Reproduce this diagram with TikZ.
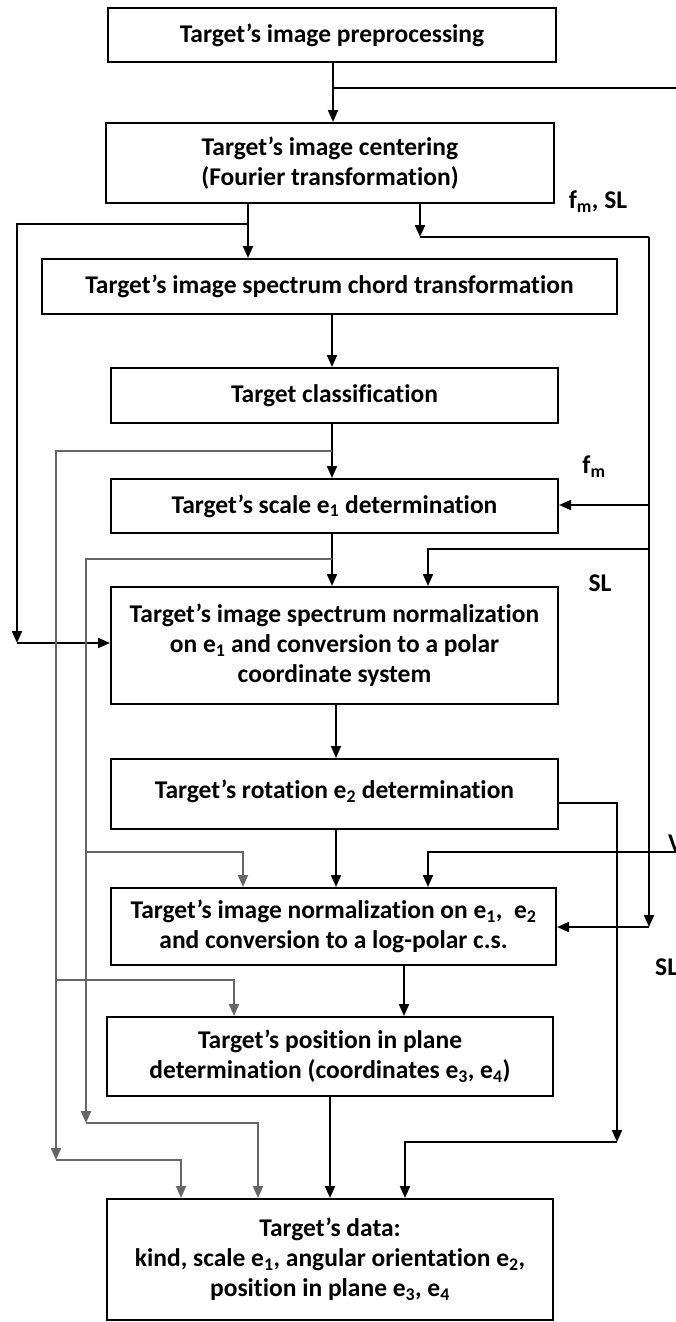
\documentclass[tikz,border=0pt]{standalone}
\usepackage{fontspec}
\setmainfont{Carlito}[Ligatures={TeX,NoCommon}]
\usetikzlibrary{arrows.meta}
\begin{document}
\begin{tikzpicture}[
        x=1pt, y=-1pt,
        font=\fontsize{25.5}{30}\selectfont\bfseries,
        block/.style = {draw, line width=2pt, align=center, inner sep=0pt},
        line/.style = {line width=2pt},
        link/.style = {line, -{Triangle[length=12pt,width=10pt]}},
        feed/.style = {draw=black!60},
        tag/.style = {inner sep=0pt}
    ]
    \useasboundingbox (0,0) rectangle (676,1322);

    \node[block, minimum width=448pt, minimum height=54pt] (prep) at (332,35) {Target's image preprocessing};
    \node[block, minimum width=448pt, minimum height=80pt] (centering) at (330,163) {Target's image centering\\(Fourier transformation)};
    \node[block, minimum width=575pt, minimum height=55pt] (chord) at (329.5,286.5) {Target's image spectrum chord transformation};
    \node[block, minimum width=447pt, minimum height=55pt] (classif) at (334.5,395.5) {Target classification};
    \node[block, minimum width=447pt, minimum height=54pt] (scale) at (334.5,506) {Target's scale e\textsubscript{1} determination};
    \node[block, minimum width=447pt, minimum height=117pt] (polar) at (334.5,645.5) {Target's image spectrum normalization\\on e\textsubscript{1} and conversion to a polar\\coordinate system};
    \node[block, minimum width=447pt, minimum height=70pt] (rotation) at (334.5,794) {\raisebox{9pt}{Target's rotation e\textsubscript{2} determination}};
    \node[block, minimum width=445pt, minimum height=77pt] (logpolar) at (333.5,926.5) {Target's image normalization on e\textsubscript{1},\ \ e\textsubscript{2}\\and conversion to a log-polar c.s.};
    \node[block, minimum width=446pt, minimum height=79pt] (position) at (330,1056.5) {Target's position in plane\\determination (coordinates e\textsubscript{3}, e\textsubscript{4})};
    \node[block, minimum width=446pt, minimum height=121pt] (data) at (330,1259.5) {Target's data:\\kind, scale e\textsubscript{1}, angular orientation e\textsubscript{2},\\position in plane e\textsubscript{3}, e\textsubscript{4}};

    % labels on the side lines
    \node[tag] (fmsl) at (598,202) {f\textsubscript{m}, SL};
    \node[tag] (fm) at (594,467) {f\textsubscript{m}};
    \node[tag] (slA) at (600,583) {SL};
    \node[tag, anchor=west] (slB) at (655,967) {SL};
    \node[tag, anchor=west] (cutV) at (668,843) {V};

    % main column
    \draw[link] (333,0 |- prep.south) -- (333,0 |- centering.north);
    \draw[line] (333,88) -- (676,88);
    \draw[link] (248,0 |- centering.south) -- (248,0 |- chord.north);
    \draw[link] (332,0 |- chord.south) -- (332,0 |- classif.north);
    \draw[link] (332,0 |- classif.south) -- (332,0 |- scale.north);
    \draw[link] (332,0 |- scale.south) -- (332,0 |- polar.north);
    \draw[link] (336,0 |- polar.south) -- (336,0 |- rotation.north);
    \draw[link] (336,0 |- rotation.south) -- (336,0 |- logpolar.north);
    \draw[link] (404,0 |- logpolar.south) -- (404,0 |- position.north);
    \draw[link] (330,0 |- position.south) -- (330,0 |- data.north);

    % spectrum to the polar block
    \draw[link] (248,224) -| (17,643);
    \draw[link] (17,643) -- (polar.west |- 0,643);

    % f_m, SL bus on the right
    \draw[link] (420,0 |- centering.south) -- (420,237);
    \draw[line] (420,237) -- (649,237);
    \draw[link] (649,237) -- (649,927);
    \draw[link] (649,927) -- (logpolar.east |- 0,927);
    \draw[link] (649,505) -- (scale.east |- 0,505);
    \draw[link] (649,549) -| (428,0 |- polar.north);
    \draw[link] (676,852) -| (428,0 |- logpolar.north);

    % kind and scale lines down the left side
    \draw[link, feed] (332,451) -| (56,1160);
    \draw[link, feed] (56,1160) -| (181,0 |- data.north);
    \draw[link, feed] (56,980) -| (234,0 |- position.north);
    \draw[link, feed] (332,559) -| (86,1123);
    \draw[link, feed] (86,1123) -| (258,0 |- data.north);
    \draw[link, feed] (86,852) -| (243,0 |- logpolar.north);

    % rotation line
    \draw[link] (rotation.east |- 0,803) -| (617,1142);
    \draw[link] (617,1142) -| (405,0 |- data.north);
\end{tikzpicture}
\end{document}
